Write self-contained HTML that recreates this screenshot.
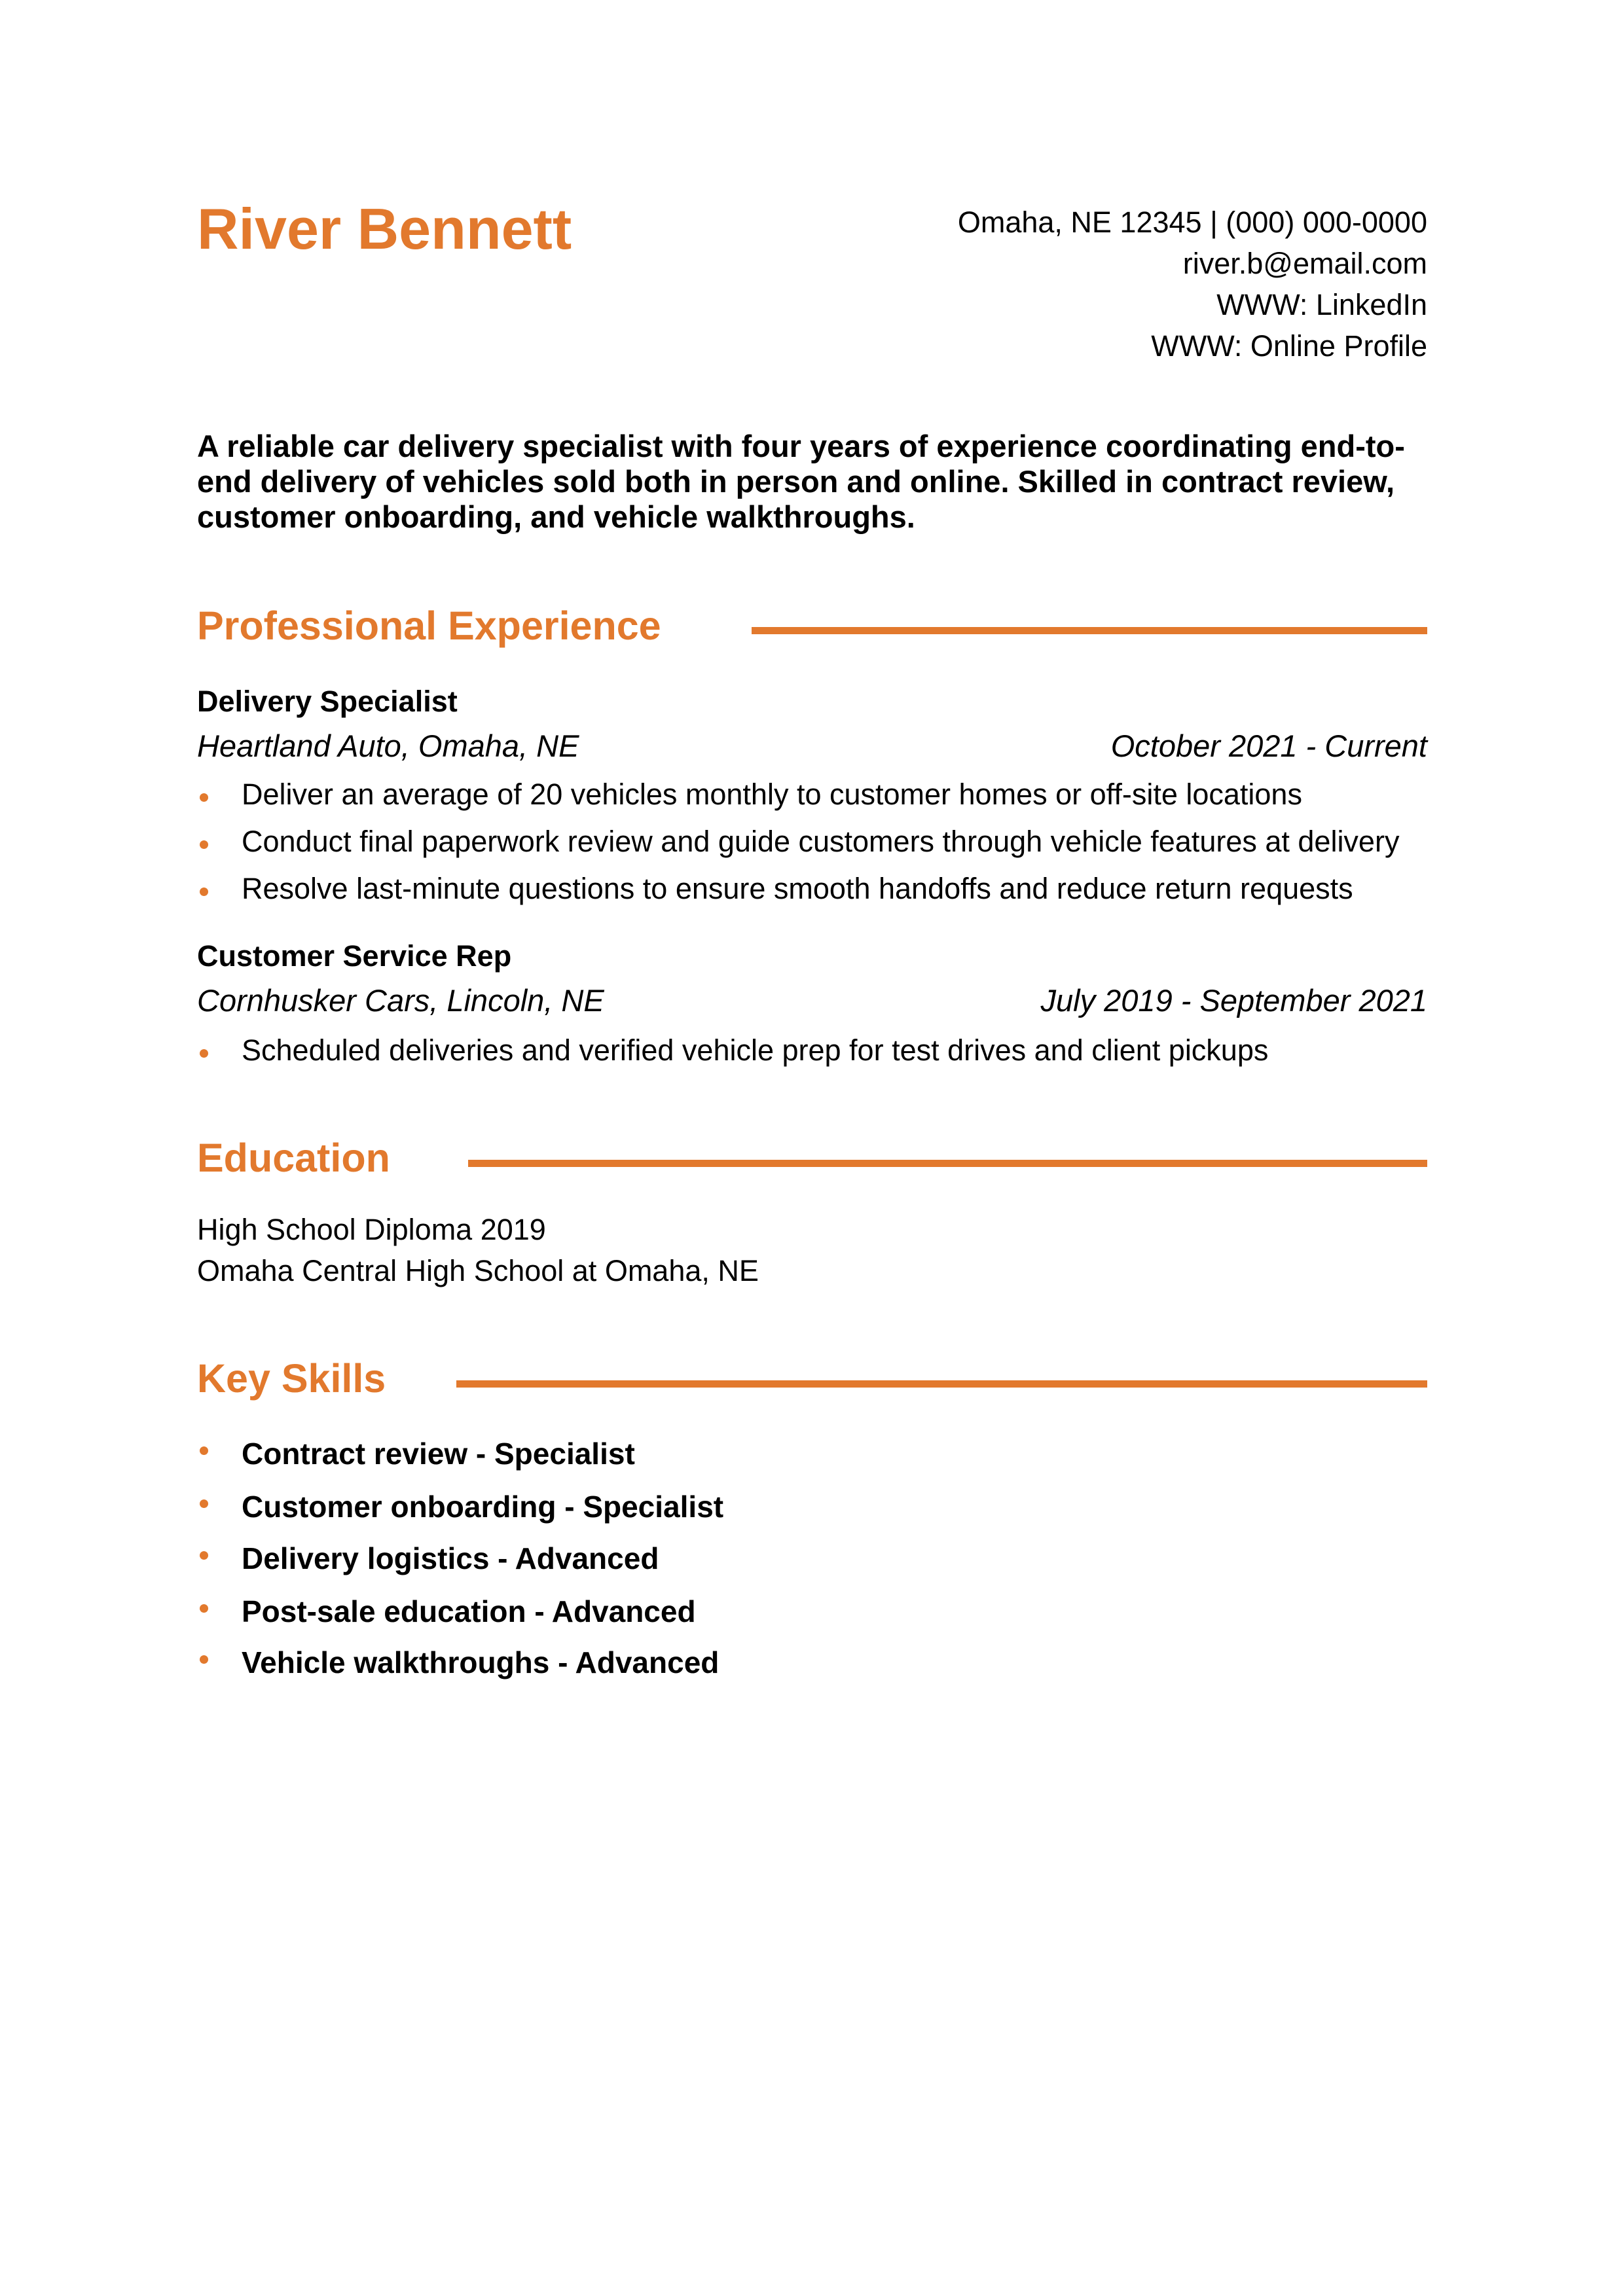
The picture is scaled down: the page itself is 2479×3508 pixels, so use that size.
<!DOCTYPE html>
<html><head><meta charset="utf-8"><style>
body{margin:0;width:2479px;height:3508px;background:#fff;position:relative;font-family:"Liberation Sans",sans-serif;color:#000;overflow:hidden}
.t{position:absolute;white-space:nowrap;line-height:60px;height:60px;font-size:45px}
.o{color:#e2792d}
.b{font-weight:bold}
.i{font-style:italic}
.r{right:299px;text-align:right}
.l{left:301px}
.h{font-size:61px;line-height:80px;height:80px;color:#e2792d;font-weight:bold}
.rule{position:absolute;height:11px;background:#e2792d;right:299px}
.dot{position:absolute;left:305px;width:13px;height:13px;border-radius:50%;background:#e2792d}
.bt{left:369px}
</style></head><body>
<div class="t o b l" style="font-size:88px;line-height:100px;height:100px;top:300px">River Bennett</div>
<div class="t r" style="top:310px">Omaha, NE 12345 | (000) 000-0000</div>
<div class="t r" style="top:373px">river.b@email.com</div>
<div class="t r" style="top:436px">WWW: LinkedIn</div>
<div class="t r" style="top:499px">WWW: Online Profile</div>

<div class="t b l" style="top:652px;font-size:47px">A reliable car delivery specialist with four years of experience coordinating end-to-</div>
<div class="t b l" style="top:706px;font-size:47px">end delivery of vehicles sold both in person and online. Skilled in contract review,</div>
<div class="t b l" style="top:760px;font-size:47px">customer onboarding, and vehicle walkthroughs.</div>

<div class="t h l" style="top:916px">Professional Experience</div>
<div class="rule" style="left:1148px;top:958px"></div>

<div class="t b l" style="top:1042px;font-size:45px">Delivery Specialist</div>
<div class="t i l" style="top:1110px;font-size:47px">Heartland Auto, Omaha, NE</div>
<div class="t i r" style="top:1110px;font-size:47px">October 2021 - Current</div>
<div class="dot" style="top:1212px"></div><div class="t bt" style="top:1184px">Deliver an average of 20 vehicles monthly to customer homes or off-site locations</div>
<div class="dot" style="top:1284px"></div><div class="t bt" style="top:1256px">Conduct final paperwork review and guide customers through vehicle features at delivery</div>
<div class="dot" style="top:1356px"></div><div class="t bt" style="top:1328px">Resolve last-minute questions to ensure smooth handoffs and reduce return requests</div>

<div class="t b l" style="top:1431px;font-size:45px">Customer Service Rep</div>
<div class="t i l" style="top:1499px;font-size:47px">Cornhusker Cars, Lincoln, NE</div>
<div class="t i r" style="top:1499px;font-size:47px">July 2019 - September 2021</div>
<div class="dot" style="top:1603px"></div><div class="t bt" style="top:1575px">Scheduled deliveries and verified vehicle prep for test drives and client pickups</div>

<div class="t h l" style="top:1729px">Education</div>
<div class="rule" style="left:715px;top:1772px"></div>
<div class="t l" style="top:1849px">High School Diploma 2019</div>
<div class="t l" style="top:1912px">Omaha Central High School at Omaha, NE</div>

<div class="t h l" style="top:2066px">Key Skills</div>
<div class="rule" style="left:697px;top:2109px"></div>
<div class="dot" style="top:2210px"></div><div class="t b bt" style="top:2191px;font-size:46px">Contract review - Specialist</div>
<div class="dot" style="top:2291px"></div><div class="t b bt" style="top:2272px;font-size:46px">Customer onboarding - Specialist</div>
<div class="dot" style="top:2370px"></div><div class="t b bt" style="top:2351px;font-size:46px">Delivery logistics - Advanced</div>
<div class="dot" style="top:2451px"></div><div class="t b bt" style="top:2432px;font-size:46px">Post-sale education - Advanced</div>
<div class="dot" style="top:2529px"></div><div class="t b bt" style="top:2510px;font-size:46px">Vehicle walkthroughs - Advanced</div>
</body></html>
